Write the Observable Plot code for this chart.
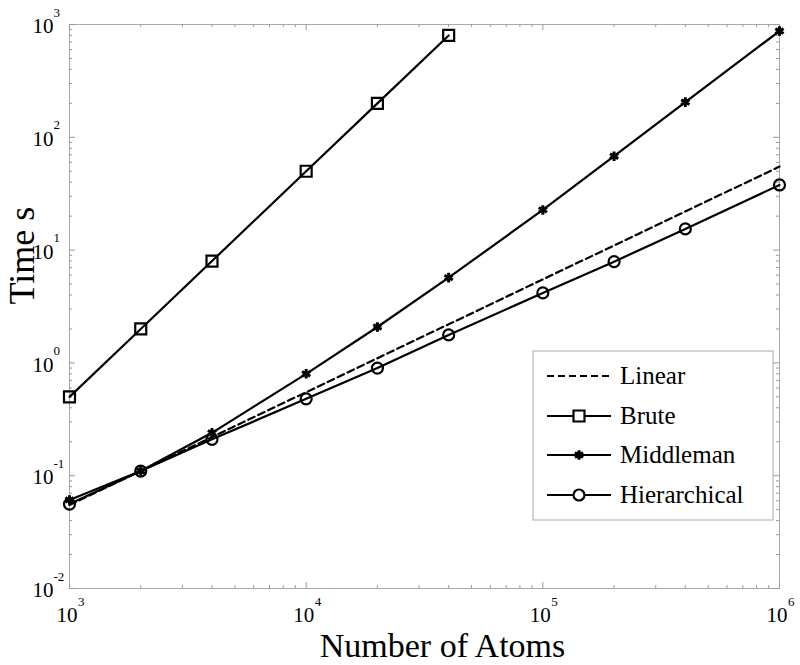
<!DOCTYPE html>
<html><head><meta charset="utf-8">
<script src="https://cdn.jsdelivr.net/npm/d3@7"></script>
<script src="https://cdn.jsdelivr.net/npm/@observablehq/plot@0.6"></script>
<style>body{margin:0;background:#fff}</style>
</head><body><div id="chart"></div>
<script>
// ---- data ----
const atoms = [1000, 2000, 4000, 10000, 20000, 40000, 100000, 200000, 400000, 1000000];
const bruteAtoms = [1000, 2000, 4000, 10000, 20000, 40000];
const linearTime = [0.055, 0.11, 0.22, 0.55, 1.1, 2.2, 5.5, 11, 22, 55];
const bruteTime = [0.5, 2, 8, 50, 200, 800];
const middlemanTime = [0.061, 0.11, 0.24, 0.8, 2.08, 5.7, 22.7, 68, 205, 875];
const hierarchicalTime = [0.056, 0.11, 0.21, 0.48, 0.9, 1.77, 4.17, 7.9, 15.4, 37.8];
const seriesNames = ["Linear", "Brute", "Middleman", "Hierarchical"];

// ---- tick labels ----
const xMajor = [1e3, 1e4, 1e5, 1e6];
const xExp = ["3", "4", "5", "6"];
const yMajor = [1e-2, 1e-1, 1e0, 1e1, 1e2, 1e3];
const yExp = ["-2", "-1", "0", "1", "2", "3"];
const xTitle = "Number of Atoms";
const yTitle = "Time s";

function minorTicks(majors) {
  const out = [];
  for (let i = 0; i < majors.length - 1; i++)
    for (let k = 2; k <= 9; k++) out.push(majors[i] * k);
  return out;
}
const xMinor = minorTicks(xMajor);
const yMinor = minorTicks(yMajor);

const W = 800, H = 665, mL = 69, mR = 21, mT = 24, mB = 77;
const pw = W - mL - mR, ph = H - mT - mB;
const tickColor = "#999", frameColor = "#aaa";
const MAJ = 6, MIN = 3;

const linear = atoms.map((x, i) => ({x, y: linearTime[i]}));
const brute = bruteAtoms.map((x, i) => ({x, y: bruteTime[i]}));
const middle = atoms.map((x, i) => ({x, y: middlemanTime[i]}));
const hier = atoms.map((x, i) => ({x, y: hierarchicalTime[i]}));

const font = "Liberation Serif, Times New Roman, serif";

const svg = Plot.plot({
  width: W, height: H,
  marginLeft: mL, marginRight: mR, marginTop: mT, marginBottom: mB,
  x: {type: "log", domain: [1e3, 1e6], axis: null},
  y: {type: "log", domain: [1e-2, 1e3], axis: null},
  style: {fontFamily: font, background: "white", color: "black", overflow: "visible"},
  marks: [
    Plot.frame({stroke: frameColor}),
    // inward ticks, bottom & top
    Plot.ruleX(xMajor, {stroke: tickColor, insetTop: ph - MAJ}),
    Plot.ruleX(xMinor, {stroke: tickColor, insetTop: ph - MIN}),
    Plot.ruleX(xMajor, {stroke: tickColor, insetBottom: ph - MAJ}),
    Plot.ruleX(xMinor, {stroke: tickColor, insetBottom: ph - MIN}),
    // inward ticks, left & right
    Plot.ruleY(yMajor, {stroke: tickColor, insetRight: pw - MAJ}),
    Plot.ruleY(yMinor, {stroke: tickColor, insetRight: pw - MIN}),
    Plot.ruleY(yMajor, {stroke: tickColor, insetLeft: pw - MAJ}),
    Plot.ruleY(yMinor, {stroke: tickColor, insetLeft: pw - MIN}),
    // tick labels
    Plot.text(xMajor, {x: d => d, frameAnchor: "bottom", text: () => "10", textAnchor: "end", dx: 8, dy: 27, fontSize: 21, lineAnchor: "middle"}),
    Plot.text(xMajor, {x: d => d, frameAnchor: "bottom", text: (d, i) => xExp[i], textAnchor: "start", dx: 8.5, dy: 13, fontSize: 13, lineAnchor: "middle"}),
    Plot.text(yMajor, {y: d => d, frameAnchor: "left", text: () => "10", textAnchor: "end", dx: -16, dy: 2, fontSize: 21, lineAnchor: "middle"}),
    Plot.text(yMajor, {y: d => d, frameAnchor: "left", text: (d, i) => yExp[i], textAnchor: "start", dx: -16, dy: -12, fontSize: 13, lineAnchor: "middle"}),
    // axis titles
    Plot.text([xTitle], {frameAnchor: "bottom", text: d => d, dx: 18, dy: 58, fontSize: 34, lineAnchor: "middle"}),
    Plot.text([yTitle], {frameAnchor: "left", text: d => d, rotate: -90, dx: -47.5, dy: -2, fontSize: 36, lineAnchor: "middle"}),
    // series
    Plot.line(linear, {x: "x", y: "y", stroke: "black", strokeWidth: 2.2, strokeDasharray: "7,4"}),
    Plot.line(brute, {x: "x", y: "y", stroke: "black", strokeWidth: 2.2}),
    Plot.dot(brute, {x: "x", y: "y", symbol: "square", r: 6.2, stroke: "black", strokeWidth: 2.2, fill: "none"}),
    Plot.line(middle, {x: "x", y: "y", stroke: "black", strokeWidth: 2.2}),
    Plot.dot(middle, {x: "x", y: "y", symbol: "asterisk", r: 4.5, stroke: "black", strokeWidth: 3, fill: "none"}),
    Plot.line(hier, {x: "x", y: "y", stroke: "black", strokeWidth: 2.2}),
    Plot.dot(hier, {x: "x", y: "y", symbol: "circle", r: 5.5, stroke: "black", strokeWidth: 2.2, fill: "none"})
  ]
});

// ---- legend box ----
const g = d3.select(svg).append("g").style("font-family", font).attr("text-anchor", "start");
g.append("rect").attr("x", 533).attr("y", 351).attr("width", 240).attr("height", 169)
  .attr("fill", "white").attr("stroke", frameColor);
const rowsY = [376, 416, 455, 495];
const symbols = [null, d3.symbolSquare, d3.symbolAsterisk, d3.symbolCircle];
const sizes = [0, 121, Math.PI * 20, Math.PI * 30];
const sw = [2.2, 2.2, 3, 2.2];
seriesNames.forEach((name, i) => {
  const y = rowsY[i];
  g.append("line").attr("x1", 547).attr("x2", 611).attr("y1", y).attr("y2", y)
    .attr("stroke", "black").attr("stroke-width", 2.2)
    .attr("stroke-dasharray", i === 0 ? "7,4" : null);
  if (symbols[i]) {
    g.append("path").attr("d", d3.symbol(symbols[i], sizes[i])())
      .attr("transform", `translate(579,${y})`)
      .attr("fill", "white").attr("stroke", "black").attr("stroke-width", sw[i]);
  }
  g.append("text").attr("x", 620).attr("y", y).attr("dy", "0.33em")
    .style("font-family", font).style("font-size", "25px").style("text-anchor", "start")
    .attr("fill", "black").text(name);
});

document.getElementById("chart").appendChild(svg);
</script>
</body></html>
